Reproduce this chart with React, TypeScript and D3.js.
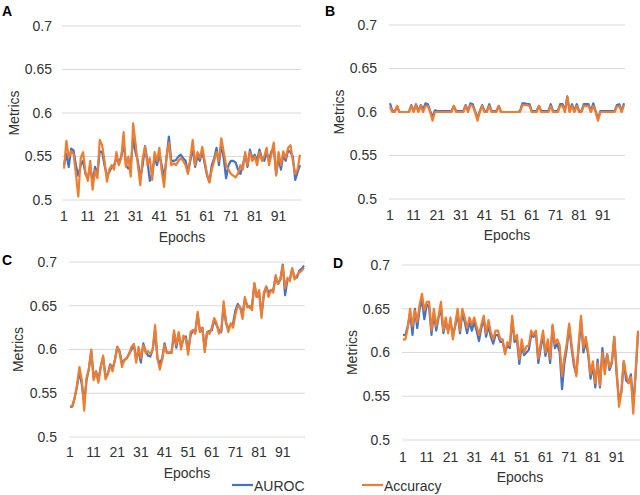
import React from 'react'
import * as d3 from 'd3'

// epochs 1..100 (category axis)
const epochs: number[] = d3.range(1, 101)
const epochTicks = [1, 11, 21, 31, 41, 51, 61, 71, 81, 91]
const yTicks = [0.5, 0.55, 0.6, 0.65, 0.7]
const yTickLabels = ['0.5', '0.55', '0.6', '0.65', '0.7']

// Panel A
const aurocA = [
    0.540, 0.553, 0.538, 0.559, 0.557, 0.540, 0.528, 0.540, 0.545, 0.530,
    0.525, 0.540, 0.520, 0.538, 0.530, 0.556, 0.555, 0.540, 0.528, 0.532,
    0.538, 0.540, 0.548, 0.542, 0.550, 0.565, 0.540, 0.536, 0.540, 0.570,
    0.555, 0.545, 0.525, 0.540, 0.562, 0.545, 0.522, 0.530, 0.550, 0.540,
    0.552, 0.540, 0.525, 0.548, 0.573, 0.545, 0.545, 0.546, 0.550, 0.552,
    0.548, 0.545, 0.532, 0.545, 0.560, 0.538, 0.550, 0.545, 0.556, 0.542,
    0.528, 0.521, 0.540, 0.548, 0.560, 0.540, 0.565, 0.548, 0.525, 0.540,
    0.545, 0.545, 0.543, 0.535, 0.530, 0.540, 0.552, 0.538, 0.558, 0.548,
    0.552, 0.545, 0.558, 0.548, 0.545, 0.555, 0.545, 0.556, 0.560, 0.530,
    0.548, 0.535, 0.552, 0.545, 0.557, 0.555, 0.550, 0.523, 0.532, 0.540,
]
const accA = [
    0.536, 0.568, 0.549, 0.556, 0.553, 0.530, 0.504, 0.548, 0.555, 0.532,
    0.522, 0.545, 0.512, 0.534, 0.525, 0.569, 0.563, 0.545, 0.521, 0.535,
    0.540, 0.535, 0.555, 0.540, 0.548, 0.578, 0.538, 0.550, 0.527, 0.588,
    0.565, 0.540, 0.517, 0.548, 0.561, 0.540, 0.548, 0.523, 0.555, 0.545,
    0.560, 0.533, 0.515, 0.550, 0.566, 0.540, 0.542, 0.540, 0.545, 0.548,
    0.545, 0.540, 0.530, 0.548, 0.569, 0.540, 0.555, 0.548, 0.561, 0.545,
    0.530, 0.520, 0.535, 0.545, 0.555, 0.545, 0.571, 0.555, 0.540, 0.535,
    0.530, 0.528, 0.526, 0.530, 0.540, 0.535, 0.555, 0.540, 0.555, 0.545,
    0.550, 0.540, 0.555, 0.545, 0.550, 0.560, 0.540, 0.552, 0.566, 0.528,
    0.555, 0.540, 0.556, 0.548, 0.560, 0.563, 0.545, 0.530, 0.535, 0.552,
]

// Panel B
const aurocB = [
    0.610, 0.601, 0.601, 0.606, 0.600, 0.600, 0.600, 0.600, 0.600, 0.608,
    0.601, 0.609, 0.601, 0.608, 0.603, 0.610, 0.609, 0.601, 0.594, 0.602,
    0.601, 0.601, 0.601, 0.601, 0.601, 0.601, 0.601, 0.607, 0.601, 0.601,
    0.601, 0.601, 0.608, 0.601, 0.610, 0.609, 0.601, 0.593, 0.601, 0.608,
    0.601, 0.601, 0.609, 0.601, 0.601, 0.601, 0.607, 0.600, 0.600, 0.600,
    0.600, 0.600, 0.600, 0.600, 0.600, 0.601, 0.610, 0.610, 0.609, 0.609,
    0.601, 0.601, 0.601, 0.607, 0.601, 0.601, 0.601, 0.601, 0.609, 0.601,
    0.601, 0.601, 0.609, 0.609, 0.601, 0.618, 0.601, 0.609, 0.601, 0.609,
    0.601, 0.601, 0.609, 0.609, 0.609, 0.601, 0.610, 0.601, 0.592, 0.601,
    0.601, 0.601, 0.601, 0.601, 0.601, 0.601, 0.608, 0.609, 0.601, 0.610,
]
const accB = [
    0.606, 0.600, 0.600, 0.607, 0.600, 0.600, 0.600, 0.600, 0.600, 0.607,
    0.600, 0.608, 0.600, 0.607, 0.600, 0.607, 0.607, 0.600, 0.590, 0.600,
    0.600, 0.600, 0.600, 0.600, 0.600, 0.600, 0.600, 0.607, 0.600, 0.600,
    0.600, 0.600, 0.607, 0.600, 0.608, 0.607, 0.600, 0.590, 0.600, 0.607,
    0.600, 0.600, 0.607, 0.600, 0.600, 0.600, 0.607, 0.600, 0.600, 0.600,
    0.600, 0.600, 0.600, 0.600, 0.600, 0.600, 0.608, 0.608, 0.608, 0.607,
    0.600, 0.600, 0.600, 0.607, 0.600, 0.600, 0.600, 0.600, 0.607, 0.600,
    0.600, 0.600, 0.607, 0.607, 0.600, 0.617, 0.600, 0.607, 0.600, 0.607,
    0.600, 0.600, 0.607, 0.607, 0.607, 0.600, 0.607, 0.600, 0.590, 0.600,
    0.600, 0.600, 0.600, 0.600, 0.600, 0.600, 0.606, 0.607, 0.600, 0.608,
]

// Panel C
const aurocC = [
    0.534, 0.535, 0.545, 0.558, 0.575, 0.560, 0.540, 0.565, 0.578, 0.598,
    0.568, 0.575, 0.565, 0.580, 0.591, 0.570, 0.572, 0.583, 0.578, 0.588,
    0.603, 0.598, 0.584, 0.588, 0.590, 0.595, 0.600, 0.606, 0.590, 0.598,
    0.585, 0.607, 0.598, 0.593, 0.592, 0.600, 0.622, 0.590, 0.584, 0.590,
    0.607, 0.596, 0.596, 0.597, 0.618, 0.602, 0.618, 0.603, 0.612, 0.615,
    0.598, 0.616, 0.622, 0.620, 0.640, 0.620, 0.625, 0.600, 0.620, 0.621,
    0.622, 0.634, 0.628, 0.622, 0.620, 0.650, 0.630, 0.624, 0.628, 0.630,
    0.645, 0.652, 0.648, 0.640, 0.658, 0.650, 0.648, 0.650, 0.675, 0.660,
    0.665, 0.640, 0.662, 0.672, 0.665, 0.668, 0.668, 0.683, 0.675, 0.680,
    0.697, 0.662, 0.680, 0.680, 0.692, 0.682, 0.682, 0.690, 0.692, 0.696,
]
const accC = [
    0.535, 0.535, 0.545, 0.560, 0.580, 0.565, 0.530, 0.568, 0.578, 0.600,
    0.565, 0.575, 0.562, 0.580, 0.593, 0.566, 0.572, 0.582, 0.575, 0.588,
    0.603, 0.596, 0.580, 0.588, 0.590, 0.595, 0.603, 0.606, 0.585, 0.603,
    0.590, 0.605, 0.596, 0.598, 0.595, 0.600, 0.628, 0.590, 0.577, 0.588,
    0.605, 0.596, 0.597, 0.596, 0.622, 0.605, 0.620, 0.600, 0.616, 0.612,
    0.594, 0.620, 0.622, 0.618, 0.643, 0.620, 0.625, 0.597, 0.620, 0.618,
    0.625, 0.636, 0.630, 0.618, 0.622, 0.655, 0.632, 0.620, 0.630, 0.625,
    0.640, 0.650, 0.648, 0.635, 0.660, 0.648, 0.650, 0.645, 0.676, 0.660,
    0.668, 0.636, 0.665, 0.672, 0.660, 0.668, 0.665, 0.685, 0.675, 0.680,
    0.696, 0.670, 0.682, 0.678, 0.693, 0.680, 0.685, 0.688, 0.690, 0.693,
]

// Panel D
const aurocD = [
    0.620, 0.620, 0.630, 0.645, 0.620, 0.650, 0.628, 0.650, 0.660, 0.638,
    0.655, 0.652, 0.620, 0.645, 0.625, 0.640, 0.650, 0.622, 0.635, 0.625,
    0.635, 0.620, 0.630, 0.645, 0.622, 0.645, 0.635, 0.622, 0.635, 0.625,
    0.635, 0.625, 0.613, 0.628, 0.638, 0.618, 0.630, 0.618, 0.610, 0.620,
    0.620, 0.612, 0.612, 0.600, 0.608, 0.605, 0.638, 0.612, 0.615, 0.587,
    0.608, 0.597, 0.600, 0.603, 0.620, 0.618, 0.622, 0.588, 0.605, 0.620,
    0.596, 0.610, 0.588, 0.630, 0.605, 0.610, 0.600, 0.558, 0.588, 0.605,
    0.630, 0.605, 0.585, 0.575, 0.605, 0.638, 0.600, 0.612, 0.598, 0.570,
    0.585, 0.560, 0.592, 0.560, 0.605, 0.580, 0.598, 0.580, 0.588, 0.618,
    0.575, 0.545, 0.555, 0.590, 0.568, 0.565, 0.575, 0.540, 0.575, 0.622,
]
const accD = [
    0.615, 0.615, 0.628, 0.650, 0.630, 0.648, 0.635, 0.655, 0.667, 0.648,
    0.658, 0.658, 0.625, 0.650, 0.630, 0.642, 0.658, 0.625, 0.640, 0.622,
    0.640, 0.615, 0.632, 0.650, 0.625, 0.650, 0.640, 0.628, 0.640, 0.632,
    0.640, 0.630, 0.620, 0.632, 0.642, 0.622, 0.637, 0.623, 0.615, 0.625,
    0.625, 0.615, 0.615, 0.598, 0.612, 0.608, 0.642, 0.615, 0.620, 0.592,
    0.615, 0.600, 0.607, 0.608, 0.625, 0.620, 0.625, 0.593, 0.610, 0.625,
    0.600, 0.615, 0.593, 0.632, 0.610, 0.615, 0.608, 0.573, 0.595, 0.610,
    0.633, 0.610, 0.590, 0.573, 0.610, 0.642, 0.605, 0.618, 0.600, 0.575,
    0.590, 0.565, 0.588, 0.562, 0.600, 0.575, 0.598, 0.583, 0.590, 0.618,
    0.580, 0.538, 0.555, 0.590, 0.575, 0.565, 0.572, 0.530, 0.578, 0.625,
]

const BLUE = '#4472C4'
const ORANGE = '#ED7D31'
const TEXT = '#333333'
const FONT = '"Liberation Sans", Arial, sans-serif'

interface PanelProps {
    letter: string
    auroc: number[]
    acc: number[]
    // layout in pixels
    gx0: number
    gx1: number
    px0: number
    px1: number
    yTop: number
    yBot: number
    tickRight: number
    xTickY: number
    titleX: number
    titleY: number
    metricsX: number
    letterX: number
    letterY: number
}

const Panel: React.FC<PanelProps> = (p) => {
    const x = d3.scalePoint<number>().domain(epochs).range([p.px0, p.px1])
    const y = d3.scaleLinear().domain([0.5, 0.7]).range([p.yBot, p.yTop])
    const line = d3
        .line<number>()
        .x((_, i) => x(epochs[i]) as number)
        .y((d) => y(d))

    return (
        <g fontFamily={FONT} fill={TEXT}>
            {yTicks.map((t, i) => (
                <g key={t}>
                    <line x1={p.gx0} x2={p.gx1} y1={y(t)} y2={y(t)} stroke="#d9d9d9" strokeWidth={1} />
                    <text x={p.tickRight} y={y(t)} dy="0.35em" textAnchor="end" fontSize={14}>
                        {yTickLabels[i]}
                    </text>
                </g>
            ))}
            {epochTicks.map((e) => (
                <text key={e} x={x(e)} y={p.xTickY} textAnchor="middle" fontSize={14}>
                    {e}
                </text>
            ))}
            <path d={line(p.auroc) ?? ''} fill="none" stroke={BLUE} strokeWidth={2.2} strokeLinejoin="round" />
            <path d={line(p.acc) ?? ''} fill="none" stroke={ORANGE} strokeWidth={2.2} strokeLinejoin="round" />
            <text x={p.titleX} y={p.titleY} textAnchor="middle" fontSize={14}>
                Epochs
            </text>
            <text
                transform={`translate(${p.metricsX},${(p.yTop + p.yBot) / 2}) rotate(-90)`}
                textAnchor="middle"
                dy="0.35em"
                fontSize={14}
            >
                Metrics
            </text>
            <text x={p.letterX} y={p.letterY} fontSize={14} fontWeight="bold" fill="#000">
                {p.letter}
            </text>
        </g>
    )
}

const App: React.FC = () => {
    return (
        <div style={{ position: 'fixed', left: 0, top: 0 }}>
            <svg width={640} height={495} style={{ display: 'block', background: '#fff' }}>
                <Panel
                    letter="A" auroc={aurocA} acc={accA}
                    gx0={62} gx1={301} px0={64} px1={300} yTop={26} yBot={200}
                    tickRight={52} xTickY={221} titleX={182} titleY={242}
                    metricsX={14} letterX={2} letterY={16}
                />
                <Panel
                    letter="B" auroc={aurocB} acc={accB}
                    gx0={389} gx1={625} px0={390} px1={624} yTop={25} yBot={199}
                    tickRight={377} xTickY={220} titleX={507} titleY={240}
                    metricsX={339} letterX={325} letterY={16}
                />
                <Panel
                    letter="C" auroc={aurocC} acc={accC}
                    gx0={69} gx1={305} px0={70} px1={304} yTop={262} yBot={437}
                    tickRight={57} xTickY={457} titleX={187} titleY={478}
                    metricsX={18} letterX={2} letterY={265}
                />
                <Panel
                    letter="D" auroc={aurocD} acc={accD}
                    gx0={402} gx1={640} px0={403} px1={638} yTop={265} yBot={440}
                    tickRight={390} xTickY={462} titleX={520} titleY={482}
                    metricsX={352} letterX={333} letterY={268}
                />
                <g fontFamily={FONT} fontSize={14} fill={TEXT}>
                    <line x1={232} x2={253} y1={485} y2={485} stroke={BLUE} strokeWidth={2.2} />
                    <text x={254} y={491}>AUROC</text>
                    <line x1={362} x2={383} y1={485} y2={485} stroke={ORANGE} strokeWidth={2.2} />
                    <text x={384} y={491}>Accuracy</text>
                </g>
            </svg>
        </div>
    )
}

export default App
